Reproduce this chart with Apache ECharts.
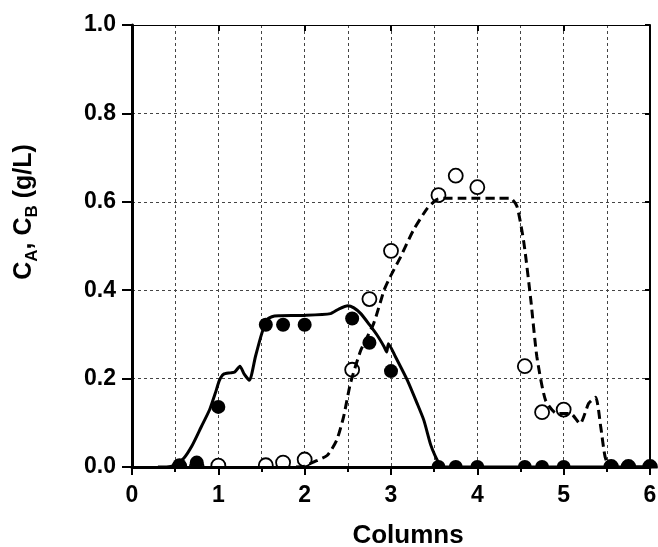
<!DOCTYPE html>
<html>
<head>
<meta charset="utf-8">
<script src="https://cdn.jsdelivr.net/npm/echarts@6/dist/echarts.min.js"></script>
<style>
  html, body { margin: 0; padding: 0; background: #fff; }
  #main { width: 658px; height: 547px; }
</style>
</head>
<body>
<div id="main"></div>
<script>
// 实验点：A 实心圆，B 空心圆
var markerX = [0.55, 0.75, 1.0, 1.55, 1.75, 2.0, 2.55, 2.75, 3.0, 3.55, 3.75, 4.0, 4.55, 4.75, 5.0, 5.55, 5.75, 6.0];
var cAData = [0.004, 0.01, 0.136, 0.322, 0.322, 0.322, 0.336, 0.281, 0.217, 0, 0, 0, 0, 0, 0, 0, 0, 0];
var cBData = [0, 0, 0.003, 0.004, 0.01, 0.017, 0.22, 0.38, 0.489, 0.615, 0.659, 0.633, 0.228, 0.124, 0.13, 0, 0, 0];

// 模型曲线 A（实线）
var modelAX = [0.3, 0.4, 0.5, 0.6, 0.7, 0.8, 0.9, 0.97, 1.01, 1.06, 1.14, 1.19, 1.25, 1.3, 1.36, 1.43, 1.5, 1.56, 1.62, 1.7, 2.0, 2.3, 2.4, 2.5, 2.57, 2.65, 2.75, 2.84, 2.92, 2.95, 2.97, 3.05, 3.19, 3.3, 3.38, 3.46, 3.51, 3.56, 3.62, 6.0];
var modelAY = [0, 0, 0.005, 0.02, 0.05, 0.09, 0.13, 0.17, 0.195, 0.21, 0.213, 0.215, 0.228, 0.21, 0.196, 0.25, 0.3, 0.332, 0.34, 0.342, 0.343, 0.347, 0.358, 0.365, 0.36, 0.347, 0.322, 0.298, 0.272, 0.26, 0.279, 0.25, 0.196, 0.145, 0.106, 0.05, 0.026, 0.008, 0, 0];

// 模型曲线 B（虚线）
var modelBX = [1.9, 2.0, 2.1, 2.26, 2.37, 2.45, 2.53, 2.65, 2.8, 2.92, 2.99, 3.11, 3.26, 3.42, 3.53, 3.6, 3.8, 4.38, 4.46, 4.54, 4.62, 4.69, 4.79, 4.92, 5.08, 5.19, 5.29, 5.37, 5.43, 5.48, 5.54, 6.0];
var modelBY = [0, 0.002, 0.011, 0.026, 0.06, 0.113, 0.189, 0.264, 0.325, 0.4, 0.43, 0.475, 0.536, 0.585, 0.605, 0.608, 0.608, 0.608, 0.589, 0.506, 0.377, 0.249, 0.151, 0.121, 0.121, 0.098, 0.144, 0.158, 0.09, 0.023, 0, 0];

var xTicks = [0, 1, 2, 3, 4, 5, 6];
var yTicks = [0, 0.2, 0.4, 0.6, 0.8, 1.0];

function zip(xs, ys) {
  return xs.map(function (x, i) { return [x, ys[i]]; });
}

var FONT = 'Liberation Sans, Arial, sans-serif';
var gridLine = { show: true, lineStyle: { color: '#444', width: 1, type: [3, 3] } };

var myChart = echarts.init(document.getElementById('main'));
myChart.setOption({
  animation: false,
  backgroundColor: '#fff',
  grid: { left: 132, right: 8, top: 25, bottom: 80, containLabel: false, outerBoundsMode: 'none' },
  xAxis: [
    {
      type: 'value', position: 'bottom', z: 5,
      min: xTicks[0], max: xTicks[xTicks.length - 1], interval: 1,
      name: 'Columns', nameLocation: 'middle', nameGap: 56,
      nameTextStyle: { fontFamily: FONT, fontWeight: 'bold', fontSize: 26, color: '#000', padding: [0, 0, 0, 34] },
      axisLine: { show: true, onZero: false, lineStyle: { color: '#000', width: 3 } },
      axisTick: { show: true, inside: false, length: 8, lineStyle: { color: '#000', width: 2 } },
      minorTick: { show: true, splitNumber: 2, length: 5, lineStyle: { color: '#000', width: 2 } },
      axisLabel: { fontFamily: FONT, fontWeight: 'bold', fontSize: 23, color: '#000', margin: 17 },
      splitLine: { show: false }
    },
    {
      type: 'value', position: 'top',
      min: xTicks[0], max: xTicks[xTicks.length - 1], interval: 1,
      axisLine: { show: true, onZero: false, lineStyle: { color: '#000', width: 1 } },
      axisTick: { show: true, inside: true, length: 6, lineStyle: { color: '#000', width: 2 } },
      minorTick: { show: false, splitNumber: 2 },
      axisLabel: { show: false },
      splitLine: gridLine,
      minorSplitLine: gridLine
    }
  ],
  yAxis: [
    {
      type: 'value', position: 'left', z: 5,
      min: yTicks[0], max: yTicks[yTicks.length - 1], interval: 0.2,
      axisLine: { show: true, onZero: false, lineStyle: { color: '#000', width: 3 } },
      axisTick: { show: true, inside: false, length: 10, lineStyle: { color: '#000', width: 2 } },
      axisLabel: {
        fontFamily: FONT, fontWeight: 'bold', fontSize: 23, color: '#000', margin: 16,
        formatter: function (v) { return v.toFixed(1); }
      },
      splitLine: { show: false }
    },
    {
      type: 'value', position: 'right',
      min: yTicks[0], max: yTicks[yTicks.length - 1], interval: 0.2,
      axisLine: { show: true, onZero: false, lineStyle: { color: '#000', width: 2 } },
      axisTick: { show: true, inside: true, length: 5, lineStyle: { color: '#000', width: 2 } },
      axisLabel: { show: false },
      splitLine: gridLine
    }
  ],
  series: [
    {
      name: 'B model', type: 'line', data: zip(modelBX, modelBY),
      showSymbol: false, smooth: 0.2,
      lineStyle: { color: '#000', width: 3, type: [9, 5] }
    },
    {
      name: 'A model', type: 'line', data: zip(modelAX, modelAY),
      showSymbol: false, smooth: 0.2,
      lineStyle: { color: '#000', width: 3 }
    },
    {
      name: 'C_B', type: 'scatter', data: zip(markerX, cBData),
      symbol: 'circle', symbolSize: 14,
      itemStyle: { color: '#fff', borderColor: '#000', borderWidth: 1.8, opacity: 1 }
    },
    {
      name: 'C_A', type: 'scatter', data: zip(markerX, cAData),
      symbol: 'circle', symbolSize: 14,
      itemStyle: { color: '#000', opacity: 1 }
    }
  ]
});

// y 轴标题（带下标），以及遮住轴线下方的半个点
var yZero = myChart.convertToPixel({ yAxisIndex: 0 }, 0);
myChart.setOption({
  graphic: [
    {
      type: 'rect', z: 4,
      shape: { x: 0, y: yZero + 1.5, width: 658, height: 547 - yZero },
      style: { fill: '#fff' }
    },
    {
      type: 'text', z: 6,
      x: 24, y: 212, rotation: Math.PI / 2,
      style: {
        text: '{m|C}{s|A}{m|, C}{s|B}{m| (g/L)}',
        align: 'center', verticalAlign: 'middle',
        rich: {
          m: { fontFamily: FONT, fontWeight: 'bold', fontSize: 25, lineHeight: 33, fill: '#000' },
          s: { fontFamily: FONT, fontWeight: 'bold', fontSize: 17, lineHeight: 17, verticalAlign: 'bottom', fill: '#000' }
        }
      }
    }
  ]
});
</script>
</body>
</html>
